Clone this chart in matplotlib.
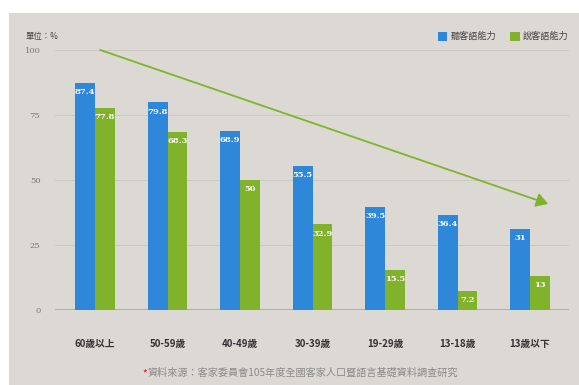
import numpy as np
import matplotlib.pyplot as plt
from matplotlib.patches import Rectangle

plt.rcParams['font.family'] = ['Noto Sans CJK TC', 'DejaVu Sans']

groups = ['60歲以上', '50-59歲', '40-49歲', '30-39歲', '19-29歲', '13-18歲', '13歲以下']
listen = [87.4, 79.8, 68.9, 55.5, 39.5, 36.4, 31]
speak = [77.8, 68.3, 50, 32.9, 15.5, 7.2, 13]
series_names = ['聽客語能力', '說客語能力']
yticks = [0, 25, 50, 75, 100]

blue = '#2e87d8'
green = '#80b22c'
bg = '#dcd9d4'

W, H = 579, 385
fig = plt.figure(figsize=(W / 100, H / 100), dpi=100)
fig.patch.set_facecolor('white')
fig.patches.append(Rectangle((9 / W, 0), 1, 1 - 13 / H, transform=fig.transFigure,
                             facecolor=bg, edgecolor='none', zorder=-10))

# axes: x pixels 55..569, y pixels 310 (bottom) .. 13 (top)
ax = fig.add_axes([55 / W, (H - 310) / H, (569 - 55) / W, (310 - 13) / H])
ax.set_facecolor('none')

x = np.arange(len(groups))
w = 0.272
b1 = ax.bar(x - w / 2, listen, w, color=blue, zorder=3)
b2 = ax.bar(x + w / 2, speak, w, color=green, zorder=3)

for bars, vals in ((b1, listen), (b2, speak)):
    for r, v in zip(bars, vals):
        ax.text(r.get_x() + r.get_width() / 2, v - 3.5, f'{v:g}', ha='center', va='center',
                color='white', fontsize=6.0, fontweight='bold', family='DejaVu Serif', zorder=4)

ax.set_xlim(-0.552, 6.538)
ax.set_ylim(0, 114.2)

for yv in yticks[1:]:
    ax.axhline(yv, color='#cbc8c3', lw=0.7, zorder=1)
ax.axhline(0, color='#a8a6a2', lw=1.2, zorder=2)

for s in ax.spines.values():
    s.set_visible(False)
ax.set_yticks(yticks)
ax.set_yticklabels([str(t) for t in yticks], family='DejaVu Serif', fontsize=6, color='#777777')
ax.tick_params(axis='y', length=0, pad=10.5)
ax.set_xticks(x)
ax.set_xticklabels(groups, fontsize=7, fontweight='bold', color='#333333')
ax.tick_params(axis='x', length=0, pad=21)

ax.annotate('', xy=(6.25, 40.8), xytext=(0.07, 100),
            arrowprops=dict(arrowstyle='-|>,head_length=0.5,head_width=0.3', color=green, lw=1.3,
                            mutation_scale=14, shrinkA=0, shrinkB=0), zorder=5)

fig.text(26 / W, 1 - 36 / H, '單位：%', fontsize=6, color='#444444', va='center')

# legend
for i, (name, col) in enumerate(zip(series_names, [blue, green])):
    x0 = [437.5, 510][i]
    fig.patches.append(Rectangle((x0 / W, 1 - 41 / H), 9.5 / W, 9.5 / H, transform=fig.transFigure,
                                 facecolor=col, edgecolor='none', zorder=5))
    fig.text((x0 + 13) / W, 1 - 36.3 / H, name, fontsize=6.6, color='#444444', va='center')

fig.text(142 / W, 1 - 373 / H, '*', color='#d02020', fontsize=7.3, va='center')
fig.text(148 / W, 1 - 373 / H, '資料來源：客家委員會105年度全國客家人口暨語言基礎資料調查研究',
         color='#8a8a8a', fontsize=7.3, va='center')

fig.savefig('out.png', dpi=100)
